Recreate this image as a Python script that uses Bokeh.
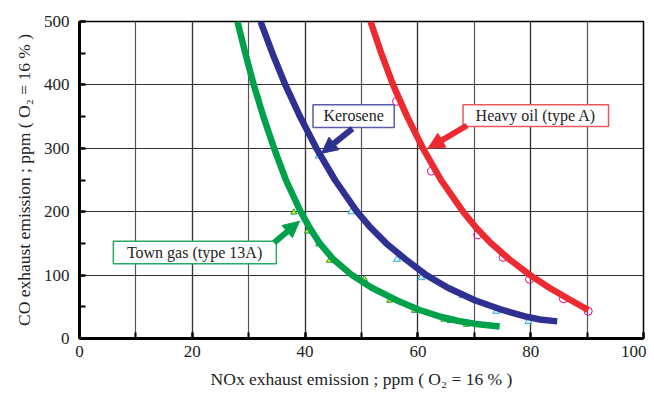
from bokeh.plotting import figure
from bokeh.models import (Range1d, SingleIntervalTicker, BoxAnnotation, Label, Arrow, NormalHead)
from bokeh.embed import file_html
from bokeh.resources import INLINE

# ---- data ----
town_gas_curve_x = [28.0, 29.4, 30.9, 32.6, 34.5, 36.6, 39.2, 40.8, 42.6, 45.0, 48.3, 51.8, 56.3, 60.3, 63.8, 67.0, 70.3, 74.5]
town_gas_curve_y = [500, 450, 400, 350, 300, 250, 200, 175, 150, 125, 100, 80, 60, 45, 35, 28, 23, 19]
town_gas_pts_x = [38.0, 40.4, 42.4, 44.3, 50.5, 55.0, 59.4, 64.6, 65.7, 68.6]
town_gas_pts_y = [199, 169, 149, 123, 94, 60, 44, 30, 28, 22]

kerosene_curve_x = [32.1, 34.2, 36.5, 39.1, 42.0, 45.3, 49.2, 51.6, 54.4, 57.8, 61.5, 65.3, 70.2, 75.0, 79.0, 81.6, 84.7]
kerosene_curve_y = [500, 450, 400, 350, 300, 250, 200, 175, 150, 125, 100, 80, 60, 45, 35, 30, 27]
kerosene_pts_x = [42.4, 48.2, 56.3, 60.6, 67.9, 73.9, 79.6]
kerosene_pts_y = [288, 200, 125, 96, 68, 43, 27]

heavy_curve_x = [51.6, 53.5, 55.6, 58.1, 60.9, 64.1, 68.0, 70.3, 73.0, 76.2, 79.9, 83.3, 87.2, 90.2]
heavy_curve_y = [500, 450, 400, 350, 300, 250, 200, 175, 150, 125, 100, 80, 60, 45]
heavy_pts_x = [56.2, 62.4, 70.6, 75.1, 79.8, 85.8, 90.2]
heavy_pts_y = [374, 264, 163.5, 128, 93.5, 62.6, 43]

labels = ["Kerosene", "Heavy oil (type A)", "Town gas (type 13A)"]

RED = "#ed2a30"
BLUE = "#2e3192"
GREEN = "#00a14b"
FONT = "'Liberation Serif', 'Times New Roman', serif"

p = figure(width=646, height=393, output_backend="svg", toolbar_location=None,
           x_range=Range1d(0, 100), y_range=Range1d(0, 500),
           min_border_left=79, min_border_right=3, min_border_top=21, min_border_bottom=55)

p.background_fill_color = "white"
p.border_fill_color = "white"
p.outline_line_color = "black"
p.outline_line_width = 1.5

p.xaxis.ticker = SingleIntervalTicker(interval=20, num_minor_ticks=2)
p.yaxis.ticker = SingleIntervalTicker(interval=100, num_minor_ticks=2)
for ax in (p.xaxis, p.yaxis):
    ax.axis_line_width = 3
    ax.axis_line_color = "black"
    ax.major_tick_in = 6
    ax.major_tick_out = 0
    ax.minor_tick_in = 6
    ax.minor_tick_out = 0
    ax.major_tick_line_width = 2
    ax.minor_tick_line_width = 2
    ax.major_tick_line_color = "black"
    ax.minor_tick_line_color = "black"
    ax.major_label_text_font = FONT
    ax.major_label_text_font_size = "17px"
    ax.major_label_text_color = "#222222"
    ax.axis_label_text_font = FONT
    ax.axis_label_text_font_size = "17.5px"
    ax.axis_label_text_font_style = "normal"
    ax.axis_label_text_color = "#222222"
p.xaxis.major_label_standoff = 7
p.yaxis.major_label_standoff = 10
p.xaxis.axis_label = "NOx exhaust emission ; ppm ( O\u2082 = 16 % )"
p.yaxis.axis_label = "CO exhaust emission ; ppm ( O\u2082 = 16 % )"
p.xaxis.axis_label_standoff = 9
p.yaxis.axis_label_standoff = 7

p.xgrid.grid_line_color = "#333333"
p.xgrid.grid_line_width = 1.2
p.xgrid.minor_grid_line_color = "#555555"
p.xgrid.minor_grid_line_width = 1.2
p.ygrid.grid_line_color = "#333333"
p.ygrid.grid_line_width = 1.2

# markers (beneath the curves)
p.scatter(town_gas_pts_x, town_gas_pts_y, marker="triangle", size=6, line_color=GREEN, fill_color="#f4e800", line_width=1)
p.scatter(kerosene_pts_x, kerosene_pts_y, marker="triangle", size=7, line_color="#29abe2", fill_color="#dff3fb", line_width=1)
p.scatter(heavy_pts_x, heavy_pts_y, marker="circle", size=8, line_color="#ec008c", fill_color=None, line_width=1)

# curves
for cx, cy, col in ((town_gas_curve_x, town_gas_curve_y, GREEN),
                    (kerosene_curve_x, kerosene_curve_y, BLUE),
                    (heavy_curve_x, heavy_curve_y, RED)):
    p.line(cx, cy, line_color=col, line_width=6.5, line_join="round")

# annotation boxes, labels and arrows
boxes = [
    (41.4, 55.8, 368.6, 333.0, "#5b5ba8", BLUE, 48.6, 351, (48.4, 331, 42.9, 292)),
    (68.0, 93.8, 368.6, 334.4, "#e8585c", RED, 80.9, 351.5, (68.7, 336, 61.8, 300)),
    (6.0, 34.9, 153.5, 117.8, "#2aa866", GREEN, 20.4, 135.6, (34.5, 151, 39.0, 185)),
]
for (l, r, t, b, bc, ac, tx, ty, arr), txt in zip(boxes, labels):
    p.add_layout(BoxAnnotation(left=l, right=r, top=t, bottom=b, fill_color="white", fill_alpha=1.0,
                               line_color=bc, line_width=1.5, line_alpha=1.0))
    p.add_layout(Label(x=tx, y=ty, text=txt, text_align="center", text_baseline="middle",
                       text_font=FONT, text_font_size="16px", text_color="#222222"))
    p.add_layout(Arrow(end=NormalHead(size=16, fill_color=ac, line_color=ac, line_width=1),
                       x_start=arr[0], y_start=arr[1], x_end=arr[2], y_end=arr[3],
                       line_color=ac, line_width=6))

open("out.html", "w").write(file_html(p, INLINE))
